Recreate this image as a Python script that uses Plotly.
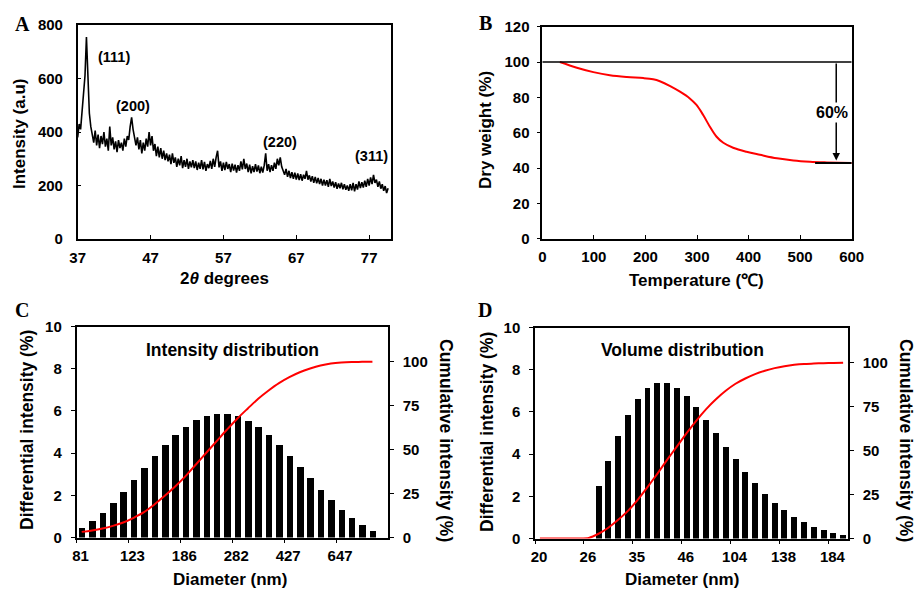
import numpy as np
import plotly.graph_objects as go

# ---------------- A: XRD pattern (2theta scan, 0.2 deg step) ----------------
two_theta_start, two_theta_step = 37.0, 0.2
xrd_intensity = [
    380, 430, 410, 470, 520, 610, 755, 640, 470, 420,
    395, 360, 405, 350, 390, 340, 385, 355, 400, 345,
    375, 330, 420, 350, 380, 335, 365, 325, 370, 340,
    360, 330, 375, 345, 385, 370, 420, 455, 410, 385,
    350, 380, 335, 370, 320, 360, 330, 375, 345, 400,
    350, 385, 330, 355, 310, 345, 305, 340, 300, 330,
    295, 320, 290, 315, 280, 320, 285, 305, 270, 300,
    275, 310, 265, 295, 270, 300, 262, 290, 268, 295,
    265, 290, 258, 285, 262, 295, 260, 288, 255, 280,
    265, 292, 262, 300, 270, 305, 330, 268, 290, 255,
    285, 258, 288, 262, 280, 250, 282, 256, 278, 248,
    276, 255, 290, 260, 300, 262, 282, 250, 278, 245,
    272, 250, 280, 252, 275, 246, 270, 248, 275, 320,
    255, 280, 250, 276, 255, 285, 262, 300, 275, 305,
    270, 255, 240, 262, 232, 255, 228, 250, 225, 248,
    222, 245, 220, 242, 218, 240, 225, 255, 222, 238,
    215, 235, 210, 232, 208, 228, 205, 225, 200, 222,
    200, 220, 195, 225, 198, 215, 192, 212, 188, 208,
    190, 210, 186, 205, 184, 200, 180, 205, 182, 210,
    178, 205, 185, 215, 190, 212, 192, 218, 195, 225,
    200, 230, 205, 240, 210, 222, 195, 215, 188, 205,
    180, 198, 172, 190,
]
two_theta = np.round(two_theta_start + two_theta_step * np.arange(len(xrd_intensity)), 1)
peak_labels = ["(111)", "(200)", "(220)", "(311)"]
peak_label_x = [41.95, 44.6, 64.8, 77.3]
peak_label_y = [680, 497, 364, 310]

# ---------------- B: TGA ----------------
tga_temp = [34, 67, 99, 131, 164, 196, 215, 228, 248, 267, 286, 299, 312, 325,
            338, 351, 370, 396, 422, 455, 487, 519, 552, 600]
tga_weight = [100, 96.8, 94.3, 92.5, 91.5, 90.9, 90.2, 89.1, 86.4, 83.2, 79.4, 75.7,
              70, 63.4, 57.7, 54.3, 51.5, 49.2, 47.5, 45.5, 44.3, 43.6, 43.2, 42.8]
initial_weight = 100
residual_weight = 42.8
loss_text = "60%"
loss_temp = 570

# ---------------- C: intensity distribution ----------------
c_tick_text = ["81", "123", "186", "282", "427", "647"]
c_diff = [0.46, 0.79, 1.2, 1.66, 2.2, 2.76, 3.33, 3.89, 4.41, 4.87, 5.26, 5.58, 5.78, 5.89,
          5.89, 5.77, 5.55, 5.24, 4.87, 4.41, 3.9, 3.36, 2.83, 2.29, 1.79, 1.33, 0.93, 0.6, 0.33]
c_cum = [3.2, 4, 5.1, 6.6, 8.5, 11.2, 14.4, 18.8, 23.7, 29, 34.9, 41.5, 48.2, 54.8, 61.4,
         67.7, 73.4, 78.9, 83.6, 87.8, 91.2, 94, 96.1, 97.8, 98.9, 99.5, 99.8, 99.9, 100]

# ---------------- D: volume distribution ----------------
d_tick_text = ["20", "26", "35", "46", "104", "138", "184"]
d_diff = [0, 0, 0, 0, 0, 0, 2.5, 3.71, 4.88, 5.89, 6.65, 7.16, 7.38, 7.38, 7.14, 6.76,
          6.24, 5.66, 5.02, 4.38, 3.78, 3.19, 2.64, 2.15, 1.72, 1.36, 1.06, 0.79, 0.58,
          0.43, 0.3, 0.19]
d_cum = [0, 0, 0, 0, 0, 0.3, 2.7, 6.1, 10.6, 15.7, 22, 29.2, 36.8, 44.7, 52.3, 59.9,
         67.1, 73.6, 79.2, 84, 88, 91, 93.5, 95.4, 96.9, 98, 98.8, 99.3, 99.5, 99.7,
         99.8, 100]

FONT = "Liberation Sans, Arial, sans-serif"
RED = "#ff0000"

fig = go.Figure()

fig.add_trace(go.Scatter(x=two_theta, y=xrd_intensity, mode="lines",
                         line=dict(color="black", width=1.6), xaxis="x", yaxis="y"))
fig.add_trace(go.Scatter(x=tga_temp, y=tga_weight, mode="lines",
                         line=dict(color=RED, width=2, shape="spline"), xaxis="x2", yaxis="y2"))

c_idx = np.arange(len(c_diff))
fig.add_trace(go.Bar(x=c_idx, y=c_diff, width=0.63, marker=dict(color="black", line_width=0),
                     xaxis="x3", yaxis="y3"))
fig.add_trace(go.Scatter(x=c_idx, y=c_cum, mode="lines",
                         line=dict(color=RED, width=2, shape="spline"), xaxis="x3", yaxis="y5"))

d_idx = np.arange(len(d_diff))
fig.add_trace(go.Bar(x=d_idx, y=d_diff, width=0.61, marker=dict(color="black", line_width=0),
                     xaxis="x4", yaxis="y4"))
fig.add_trace(go.Scatter(x=d_idx, y=d_cum, mode="lines",
                         line=dict(color=RED, width=2, shape="spline", smoothing=0.6),
                         xaxis="x4", yaxis="y6"))

tickfont = dict(family=FONT, size=15, color="black", weight="bold")
base = dict(showline=True, linecolor="black", linewidth=1.5, showgrid=False, zeroline=False,
            tickfont=tickfont, tickcolor="black", ticklen=4, tickwidth=1.3, automargin=False)

W, H = 919, 589
def px_x(a, b):
    return [a / W, b / W]
def px_y(top, bottom):
    return [1 - bottom / H, 1 - top / H]

layout = dict(
    width=W, height=H, margin=dict(l=0, r=0, t=0, b=0),
    paper_bgcolor="white", plot_bgcolor="white", showlegend=False, bargap=0,
    xaxis=dict(base, domain=px_x(77.7, 391), anchor="y", range=[37, 80],
               tickvals=[37, 47, 57, 67, 77], ticks="inside", mirror=True, ticklabelstandoff=4),
    yaxis=dict(base, domain=px_y(25, 239), anchor="x", range=[0, 800], dtick=200,
               ticks="inside", mirror=True, ticklabelstandoff=10),
    xaxis2=dict(base, domain=px_x(542.3, 851.7), anchor="y2", range=[0, 600], dtick=100,
                ticks="inside", mirror=True, ticklabelstandoff=4),
    yaxis2=dict(base, domain=px_y(26.7, 238.7), anchor="x2", range=[0, 120], dtick=20,
                ticks="outside", mirror=True, ticklabelstandoff=4),
    xaxis3=dict(base, domain=px_x(76.5, 388), anchor="y3", range=[-0.5, 29.5],
                tickvals=[-0.5, 4.5, 9.5, 14.5, 19.5, 24.5], ticktext=c_tick_text,
                ticks="outside", mirror=True, ticklabelshift=4),
    yaxis3=dict(base, domain=px_y(326.5, 537.5), anchor="x3", range=[0, 10], dtick=2,
                ticks="outside", ticklabelstandoff=6),
    yaxis5=dict(base, overlaying="y3", side="right", anchor="x3", range=[0, 120],
                tickvals=[0, 25, 50, 75, 100], ticks="outside", ticklabelstandoff=6),
    xaxis4=dict(base, domain=px_x(535, 848), anchor="y4", range=[-0.5, 31.5],
                tickvals=[-0.5, 4.5, 9.5, 14.5, 19.5, 24.5, 29.5], ticktext=d_tick_text,
                ticks="outside", mirror=True, ticklabelshift=4),
    yaxis4=dict(base, domain=px_y(327.5, 538.5), anchor="x4", range=[0, 10], dtick=2,
                ticks="outside", ticklabelstandoff=6),
    yaxis6=dict(base, overlaying="y4", side="right", anchor="x4", range=[0, 120],
                tickvals=[0, 25, 50, 75, 100], ticks="outside", ticklabelstandoff=6),
)
fig.update_layout(**layout)

# reference lines in B
fig.add_shape(type="line", xref="x2", yref="y2", x0=0, x1=600, y0=initial_weight, y1=initial_weight,
              line=dict(color="black", width=1.5))
fig.add_shape(type="line", xref="x2", yref="y2", x0=529, x1=600, y0=residual_weight, y1=residual_weight,
              line=dict(color="black", width=2))

ann = []
def title(text, x, y, size=17, angle=0, family=FONT):
    ann.append(dict(text=text, x=x / W, y=1 - y / H, xref="paper", yref="paper", showarrow=False,
                    textangle=angle, xanchor="center", yanchor="middle",
                    font=dict(family=family, size=size, color="black", weight="bold")))

for lab, px, py in [("A", 22, 24), ("B", 485, 23), ("C", 22, 310), ("D", 485, 310)]:
    title(lab, px, py, size=20, family="Liberation Serif, Times New Roman, serif")

title("Intensity (a.u)", 19, 134, angle=-90)
title("2<i>θ</i> degrees", 224, 279)
title("Dry weight (%)", 486, 130, angle=-90)
title("Temperature (℃)", 696, 281)
title("Differential intensity (%)", 27, 430, size=17.5, angle=-90)
title("Cumulative intensity (%)", 446, 440, size=17.5, angle=90)
title("Diameter (nm)", 230, 579)
title("Differential intensity (%)", 487, 432, size=17.5, angle=-90)
title("Cumulative intensity (%)", 906, 440, size=17.5, angle=90)
title("Diameter (nm)", 682, 579)
title("Intensity distribution", 232, 350, size=17.5)
title("Volume distribution", 682, 350, size=17.5)

for t, x, y in zip(peak_labels, peak_label_x, peak_label_y):
    ann.append(dict(text=t, x=x, y=y, xref="x", yref="y", showarrow=False,
                    font=dict(family=FONT, size=14.5, color="black", weight="bold")))

# weight loss arrow in B
ann.append(dict(x=loss_temp, y=residual_weight + 1.5, ax=loss_temp, ay=initial_weight,
                xref="x2", yref="y2", axref="x2", ayref="y2", text="", showarrow=True,
                arrowhead=2, arrowsize=1, arrowwidth=1.5, arrowcolor="black"))
ann.append(dict(text=loss_text, x=562, y=71.5, xref="x2", yref="y2", showarrow=False,
                bgcolor="white", font=dict(family=FONT, size=16, color="black", weight="bold")))

fig.update_layout(annotations=ann)
fig.write_html("out.html", config={"displayModeBar": False},
               post_script="document.body.style.margin='0';")
